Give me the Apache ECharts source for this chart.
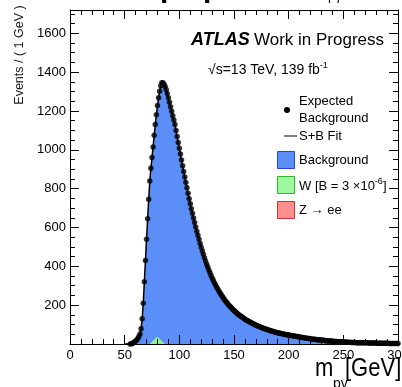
<!DOCTYPE html>
<html>
<head>
<meta charset="utf-8">
<script src="https://cdn.jsdelivr.net/npm/echarts@6/dist/echarts.min.js"></script>
<style>
  html, body { margin: 0; padding: 0; background: #fff; }
  #chart { width: 402px; height: 387px; }
</style>
</head>
<body>
<div id="chart"></div>
<script>
// Invariant-mass spectrum, 1 GeV bins starting at massStart
const massStart = 50;
const expectedBackground = [
  0, 0, 0, 0, 0,                                         // 50-54
  0, 1, 3, 6, 10, 15, 20, 28, 38, 52,                    // 55-64
  78, 130, 210, 320, 430, 540, 645, 745, 840, 905,       // 65-74
  960, 1015, 1075, 1130, 1180, 1228, 1268, 1302, 1330, 1346, // 75-84
  1346, 1338, 1326, 1310, 1290, 1268, 1245, 1222, 1199, 1176, // 85-94
  1154, 1130, 1100, 1068, 1038, 1008, 978, 948, 918, 888,     // 95-104
  860, 832, 804, 776, 748, 722, 697, 673, 649, 626,           // 105-114
  603, 581, 560, 539, 518, 498, 480, 462, 444, 427,           // 115-124
  411, 396, 381, 367, 353, 340, 328, 316, 305, 294,           // 125-134
  284, 274, 265, 256, 247, 239, 231, 223, 216, 209,           // 135-144
  202, 196, 190, 184, 178, 172, 167, 162, 157, 152,           // 145-154
  148, 144, 140, 136, 132, 128, 124, 121, 118, 115,           // 155-164
  112, 109, 106, 103, 100, 97, 95, 92, 90, 87,                // 165-174
  85, 83, 81, 79, 77, 75, 73, 71, 69, 67,                     // 175-184
  66, 64, 62, 61, 59, 58, 57, 55, 54, 53,                     // 185-194
  51, 50, 49, 48, 47, 46, 45, 44, 43, 42,                     // 195-204
  41, 40, 39, 38, 37, 36, 35, 34, 33, 32,                     // 205-214
  31, 30, 29, 28, 28, 27, 26, 25, 24, 24,                     // 215-224
  23, 22, 22, 21, 20, 20, 19, 19, 18, 17,                     // 225-234
  17, 16, 16, 15, 15, 14, 14, 13, 13, 13,                     // 235-244
  12, 12, 11, 11, 11, 10, 10, 10, 9, 9,                       // 245-254
  9, 9, 8, 8, 8, 8, 8, 7, 7, 7,                               // 255-264
  7, 7, 6, 6, 6, 6, 6, 6, 5, 5,                               // 265-274
  5, 5, 5, 5, 5, 5, 4, 4, 4, 4,                               // 275-284
  4, 4, 4, 4, 4, 4, 4, 3, 3, 3,                               // 285-294
  3, 3, 3, 3, 3, 3, 3                                         // 295-300
];

// W signal template, 1 GeV bins starting at signalStart
const signalStart = 73;
const signalW = [0, 5, 11, 17, 23, 29, 35, 38, 33, 27, 21, 15, 9, 4, 0];

// Axis ticks
const xTicks = [0, 50, 100, 150, 200, 250, 300];
const yTicks = [200, 400, 600, 800, 1000, 1200, 1400, 1600];

const FONT = 'Liberation Sans, Arial, Helvetica, sans-serif';
const blue = '#5b8ff7';

const bgPoints = expectedBackground.map((v, i) => [massStart + i, v]);
const sigPoints = signalW.map((v, i) => [signalStart + i, v]);

const chart = echarts.init(document.getElementById('chart'), null, { renderer: 'canvas' });

const axisCommon = {
  axisLine: { show: true, onZero: false, lineStyle: { color: '#000', width: 1 } },
  splitLine: { show: false },
  z: 10
};

function xAxisDef(pos, labels) {
  return Object.assign({}, axisCommon, {
    type: 'value', position: pos, min: xTicks[0], max: xTicks[xTicks.length - 1],
    interval: xTicks[1] - xTicks[0],
    axisTick: { show: true, inside: true, length: 9, lineStyle: { color: '#000' } },
    minorTick: { show: true, splitNumber: 5, length: 5, lineStyle: { color: '#000' } },
    axisLabel: { show: labels, color: '#000', fontSize: 13, fontFamily: FONT, margin: 5 }
  });
}
function yAxisDef(pos, labels) {
  return Object.assign({}, axisCommon, {
    type: 'value', position: pos, min: 0, max: 1720,
    interval: yTicks[1] - yTicks[0],
    axisTick: { show: true, inside: true, length: 9, lineStyle: { color: '#000' } },
    minorTick: { show: true, splitNumber: 4, length: 5, lineStyle: { color: '#000' } },
    axisLabel: {
      show: labels, color: '#000', fontSize: 13, fontFamily: FONT, margin: 4,
      showMaxLabel: false,
      formatter: v => (yTicks.indexOf(v) >= 0 ? String(v) : '')
    }
  });
}

const supStyle = { fontSize: 9, fontFamily: FONT, verticalAlign: 'top', padding: [0, 0, 8, 0] };
const legendX = 277;
const option = {
  animation: false,
  backgroundColor: '#fff',
  grid: { left: 70, right: 4, top: 10, bottom: 43, containLabel: false, outerBoundsMode: 'none' },
  xAxis: [xAxisDef('bottom', true), xAxisDef('top', false)],
  yAxis: [yAxisDef('left', true), yAxisDef('right', false)],
  series: [
    {
      name: 'Background', type: 'line', data: bgPoints, showSymbol: false,
      lineStyle: { width: 0 }, areaStyle: { color: blue, opacity: 1 }, z: 2
    },
    {
      name: 'W', type: 'line', data: sigPoints, showSymbol: false,
      lineStyle: { width: 0 }, areaStyle: { color: '#90f090', opacity: 1 }, z: 3
    },
    {
      name: 'S+B Fit', type: 'line', data: bgPoints, showSymbol: false,
      lineStyle: { color: '#000', width: 1.5 }, z: 4
    },
    {
      name: 'Expected Background', type: 'scatter', data: bgPoints.filter(p => p[0] >= 55),
      symbol: 'circle', symbolSize: 5.5, itemStyle: { color: '#000' }, z: 5
    }
  ],
  graphic: [
    // heading line above the frame (only its descenders fall inside the canvas)
    { type: 'text', left: 160, top: -26, style: { text: 'p', font: 'bold 30px ' + FONT, fill: '#000' } },
    { type: 'text', left: 203, top: -26, style: { text: 'p', font: 'bold 30px ' + FONT, fill: '#000' } },
    { type: 'text', left: 328, top: -10, style: { text: 'pγ', font: '13px ' + FONT, fill: '#000' } },
    // y-axis title
    {
      type: 'text', x: 20, y: 55, rotation: Math.PI / 2,
      style: { text: 'Events / ( 1 GeV )', font: '12.5px ' + FONT, fill: '#222', align: 'center', verticalAlign: 'middle' }
    },
    // x-axis title
    { type: 'text', x: 315, y: 382, scaleY: 1.15, style: { text: 'm', font: '22px ' + FONT, fill: '#000', verticalAlign: 'bottom' } },
    { type: 'text', x: 333, y: 391, style: { text: 'pγ', font: '14px ' + FONT, fill: '#000', verticalAlign: 'bottom' } },
    { type: 'text', x: 345, y: 382, scaleY: 1.15, style: { text: '[GeV]', font: '22px ' + FONT, fill: '#000', verticalAlign: 'bottom' } },
    // ATLAS label
    { type: 'text', x: 191, y: 49, style: { text: 'ATLAS', font: 'italic bold 18px ' + FONT, fill: '#000', verticalAlign: 'bottom' } },
    { type: 'text', x: 254, y: 49, style: { text: 'Work in Progress', font: '17px ' + FONT, fill: '#000', verticalAlign: 'bottom' } },
    {
      type: 'text', x: 208, y: 70,
      style: {
        text: '√s=13 TeV, 139 fb{sup|-1}', font: '14px ' + FONT, fill: '#000', verticalAlign: 'middle',
        rich: { sup: supStyle }
      }
    },
    // legend
    { type: 'circle', shape: { cx: 287, cy: 110, r: 3 }, style: { fill: '#000' } },
    { type: 'text', x: 299, y: 110, style: { text: 'Expected\nBackground', font: '13px ' + FONT, lineHeight: 17, fill: '#000', verticalAlign: 'middle' } },
    { type: 'line', shape: { x1: 284, y1: 136, x2: 297, y2: 136 }, style: { stroke: '#000', lineWidth: 1 } },
    { type: 'text', x: 299, y: 136, style: { text: 'S+B Fit', font: '13px ' + FONT, fill: '#000', verticalAlign: 'middle' } },
    { type: 'rect', shape: { x: legendX + 0.5, y: 151.5, width: 17, height: 17 }, style: { fill: blue, stroke: '#2244dd', lineWidth: 1 } },
    { type: 'text', x: 299, y: 160, style: { text: 'Background', font: '13px ' + FONT, fill: '#000', verticalAlign: 'middle' } },
    { type: 'rect', shape: { x: legendX + 0.5, y: 176.5, width: 17, height: 17 }, style: { fill: '#9cfa9c', stroke: '#2fb52f', lineWidth: 1 } },
    {
      type: 'text', x: 299, y: 186,
      style: {
        text: 'W [B = 3 ×10{sup|-6}]', font: '13px ' + FONT, fill: '#000', verticalAlign: 'middle',
        rich: { sup: supStyle }
      }
    },
    { type: 'rect', shape: { x: legendX + 0.5, y: 201.5, width: 17, height: 17 }, style: { fill: '#ff9090', stroke: '#cc3333', lineWidth: 1 } },
    { type: 'text', x: 299, y: 210, style: { text: 'Z → ee', font: '13px ' + FONT, fill: '#000', verticalAlign: 'middle' } }
  ]
};

chart.setOption(option);
</script>
</body>
</html>
